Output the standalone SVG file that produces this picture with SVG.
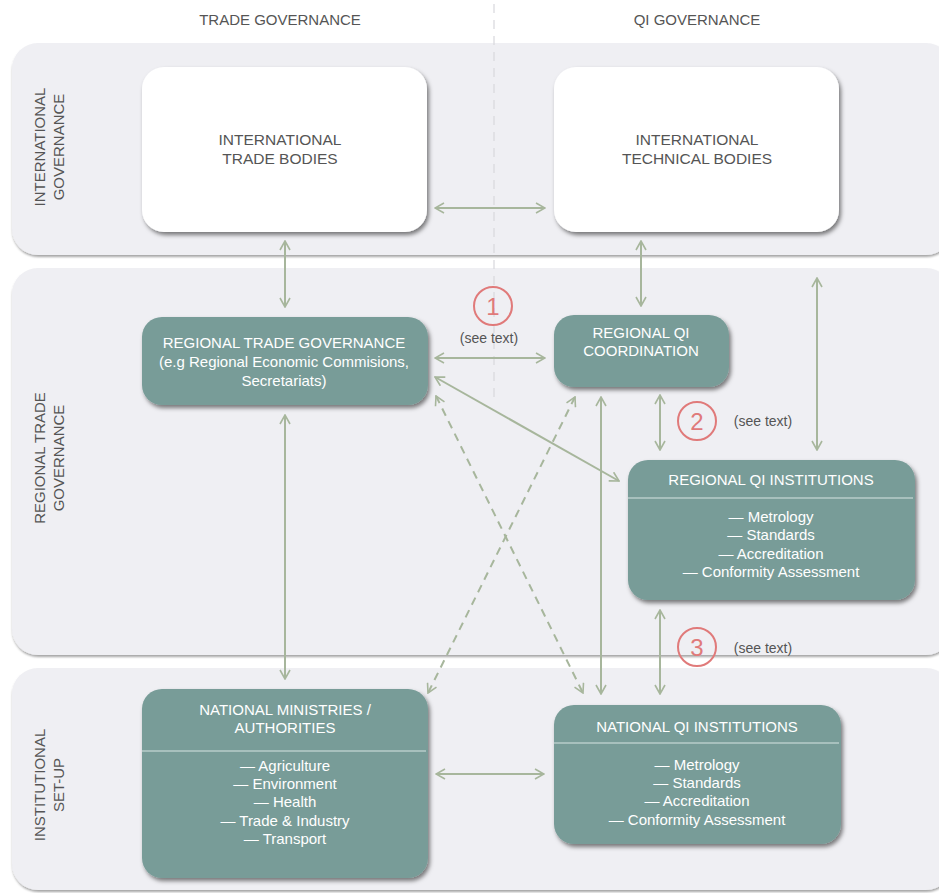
<svg xmlns="http://www.w3.org/2000/svg" width="939" height="893" viewBox="0 0 939 893">
<defs>
<filter id="bandShadow" x="-5%" y="-5%" width="110%" height="115%">
<feDropShadow dx="0.5" dy="2" stdDeviation="1.2" flood-color="#000" flood-opacity="0.35"/>
</filter>
<filter id="nodeShadow" x="-10%" y="-10%" width="125%" height="130%">
<feDropShadow dx="2" dy="3" stdDeviation="2.2" flood-color="#000" flood-opacity="0.5"/>
</filter>
<marker id="arr" viewBox="0 0 12 12" refX="11" refY="6" markerWidth="12" markerHeight="12" markerUnits="userSpaceOnUse" orient="auto-start-reverse">
<path d="M2,1 L11,6 L2,11" fill="none" stroke="#a7b69c" stroke-width="1.6"/>
</marker>
<style>
.band{fill:#efeff3;filter:url(#bandShadow);}
.hdr{font-family:"Liberation Sans",Arial,sans-serif;font-size:15px;fill:#555;text-anchor:middle;}
.side{font-family:"Liberation Sans",Arial,sans-serif;font-size:15px;fill:#555;text-anchor:middle;}
.wbox{fill:#fff;filter:url(#nodeShadow);}
.tbox{fill:#789c98;filter:url(#nodeShadow);}
.wt{font-family:"Liberation Sans",Arial,sans-serif;font-size:15.5px;fill:#555;text-anchor:middle;}
.tt{font-family:"Liberation Sans",Arial,sans-serif;font-size:15px;fill:#fff;text-anchor:middle;}
.sep{stroke:#d6e4e2;stroke-width:1.2;}
.con{stroke:#a7b69c;stroke-width:2;fill:none;marker-start:url(#arr);marker-end:url(#arr);}
.dash{stroke-dasharray:8,6;}
.circ{fill:none;stroke:#e07a7a;stroke-width:2;}
.num{font-family:"Liberation Sans",Arial,sans-serif;font-size:24px;fill:#e07a7a;text-anchor:middle;}
.see{font-family:"Liberation Sans",Arial,sans-serif;font-size:14px;fill:#555;text-anchor:middle;}
</style>
</defs>
<rect width="939" height="893" fill="#fff"/>

<g id="bands">
<rect class="band" x="12" y="43" width="940" height="212" rx="26"/>
<rect class="band" x="12" y="268" width="940" height="387" rx="26"/>
<rect class="band" x="12" y="668" width="940" height="222" rx="26"/>
</g>

<line x1="494" y1="4" x2="494" y2="402" stroke="#d8d8dc" stroke-width="1.2" stroke-dasharray="9,7"/>

<g id="headers">
<text class="hdr" x="280" y="25">TRADE GOVERNANCE</text>
<text class="hdr" x="697" y="25">QI GOVERNANCE</text>
</g>

<g id="side-labels">
<text class="side" transform="translate(45,147) rotate(-90)">INTERNATIONAL</text>
<text class="side" transform="translate(64,147) rotate(-90)">GOVERNANCE</text>
<text class="side" transform="translate(45,458) rotate(-90)">REGIONAL TRADE</text>
<text class="side" transform="translate(64,458) rotate(-90)">GOVERNANCE</text>
<text class="side" transform="translate(45,785) rotate(-90)">INSTITUTIONAL</text>
<text class="side" transform="translate(64,785) rotate(-90)">SET-UP</text>
</g>

<g id="connectors">
<line class="con" x1="435" y1="208" x2="545" y2="208"/>
<line class="con" x1="285" y1="241" x2="285" y2="307"/>
<line class="con" x1="641" y1="241" x2="641" y2="306"/>
<line class="con" x1="435" y1="358" x2="545" y2="358"/>
<line class="con" x1="435" y1="377" x2="619" y2="481"/>
<line class="con dash" x1="436" y1="396" x2="583" y2="693"/>
<line class="con dash" x1="575" y1="397" x2="428" y2="693"/>
<line class="con" x1="601" y1="397" x2="601" y2="694"/>
<line class="con" x1="660" y1="395" x2="660" y2="450"/>
<line class="con" x1="817" y1="278" x2="817" y2="450"/>
<line class="con" x1="660" y1="610" x2="660" y2="694"/>
<line class="con" x1="285" y1="415" x2="285" y2="679"/>
<line class="con" x1="436" y1="774" x2="544" y2="774"/>
</g>

<g id="annotations">
<circle class="circ" cx="493" cy="306" r="19"/>
<text class="num" x="493" y="315">1</text>
<text class="see" x="489" y="343">(see text)</text>
<circle class="circ" cx="697" cy="421" r="19"/>
<text class="num" x="697" y="430">2</text>
<text class="see" x="763" y="426">(see text)</text>
<circle class="circ" cx="697" cy="647" r="19"/>
<text class="num" x="697" y="656">3</text>
<text class="see" x="763" y="653">(see text)</text>
</g>

<g id="international-trade-bodies">
<rect class="wbox" x="142" y="67" width="285" height="165" rx="22"/>
<text class="wt" x="280" y="145">INTERNATIONAL</text>
<text class="wt" x="280" y="164">TRADE BODIES</text>
</g>

<g id="international-technical-bodies">
<rect class="wbox" x="554" y="67" width="285" height="165" rx="22"/>
<text class="wt" x="697" y="145">INTERNATIONAL</text>
<text class="wt" x="697" y="164">TECHNICAL BODIES</text>
</g>

<g id="regional-trade-governance">
<rect class="tbox" x="142" y="317" width="286" height="88" rx="20"/>
<text class="tt" x="284" y="348">REGIONAL TRADE GOVERNANCE</text>
<text class="tt" x="284" y="367">(e.g Regional Economic Commisions,</text>
<text class="tt" x="284" y="386">Secretariats)</text>
</g>

<g id="regional-qi-coordination">
<rect class="tbox" x="554" y="315" width="175" height="72" rx="20"/>
<text class="tt" x="641" y="338">REGIONAL QI</text>
<text class="tt" x="641" y="356">COORDINATION</text>
</g>

<g id="regional-qi-institutions">
<rect class="tbox" x="628" y="460" width="287" height="140" rx="20"/>
<text class="tt" x="771" y="485">REGIONAL QI INSTITUTIONS</text>
<line class="sep" x1="628" y1="498" x2="913" y2="498"/>
<text class="tt" x="771" y="522">— Metrology</text>
<text class="tt" x="771" y="540">— Standards</text>
<text class="tt" x="771" y="559">— Accreditation</text>
<text class="tt" x="771" y="577">— Conformity Assessment</text>
</g>

<g id="national-ministries">
<rect class="tbox" x="142" y="689" width="286" height="189" rx="20"/>
<text class="tt" x="285" y="715">NATIONAL MINISTRIES /</text>
<text class="tt" x="285" y="733">AUTHORITIES</text>
<line class="sep" x1="142" y1="751" x2="426" y2="751"/>
<text class="tt" x="285" y="771">— Agriculture</text>
<text class="tt" x="285" y="789">— Environment</text>
<text class="tt" x="285" y="807">— Health</text>
<text class="tt" x="285" y="826">— Trade &amp; Industry</text>
<text class="tt" x="285" y="844">— Transport</text>
</g>

<g id="national-qi-institutions">
<rect class="tbox" x="554" y="705" width="287" height="139" rx="20"/>
<text class="tt" x="697" y="732">NATIONAL QI INSTITUTIONS</text>
<line class="sep" x1="554" y1="743" x2="839" y2="743"/>
<text class="tt" x="697" y="770">— Metrology</text>
<text class="tt" x="697" y="788">— Standards</text>
<text class="tt" x="697" y="806">— Accreditation</text>
<text class="tt" x="697" y="825">— Conformity Assessment</text>
</g>
</svg>
